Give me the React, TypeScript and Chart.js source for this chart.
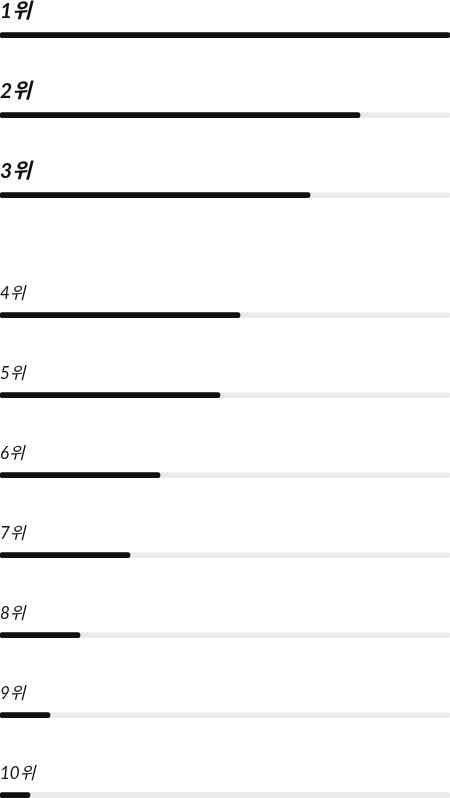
import React, { useEffect, useRef } from 'react';
import { Chart, registerables } from 'chart.js';

Chart.register(...registerables);

const ranks = ['1위', '2위', '3위', '4위', '5위', '6위', '7위', '8위', '9위', '10위'];
const scores = [45, 36, 31, 24, 22, 16, 13, 8, 5, 3];
const scoreMax = 45;
const topCount = 3;

export default function App() {
  const ref = useRef<HTMLCanvasElement>(null);

  useEffect(() => {
    if (!ref.current) return;
    const slot = (i: number) => i + (i >= topCount ? 0.5 : 0);

    const labelPlugin = {
      id: 'rankLabels',
      afterDatasetsDraw(chart: any) {
        const { ctx, chartArea } = chart;
        const meta = chart.getDatasetMeta(0);
        meta.data.forEach((bar: any, i: number) => {
          const top = i < topCount;
          ctx.save();
          ctx.font = top
            ? 'italic 700 21px Lato, "Noto Sans CJK KR", sans-serif'
            : 'italic 400 17px Lato, "Noto Sans CJK KR", sans-serif';
          ctx.fillStyle = '#111111';
          ctx.textAlign = 'left';
          ctx.textBaseline = 'alphabetic';
          ctx.fillText(ranks[i], chartArea.left, bar.y - (top ? 17 : 16));
          ctx.restore();
        });
      },
    };

    const chart = new Chart(ref.current, {
      type: 'bar',
      data: {
        datasets: [
          {
            data: scores.map((v, i) => ({ x: v, y: slot(i) })),
            backgroundColor: '#111111',
            borderRadius: 3,
            borderSkipped: false,
            barThickness: 5,
            grouped: false,
          } as any,
          {
            data: scores.map((_, i) => ({ x: scoreMax, y: slot(i) })),
            backgroundColor: '#ebebeb',
            borderRadius: 3,
            borderSkipped: false,
            barThickness: 5,
            grouped: false,
          } as any,
        ],
      },
      options: {
        indexAxis: 'y',
        animation: false,
        responsive: false,
        devicePixelRatio: 1,
        layout: { padding: 0 },
        plugins: { legend: { display: false }, tooltip: { enabled: false } },
        scales: {
          x: { type: 'linear', min: 0, max: scoreMax, display: false, offset: false },
          y: { type: 'linear', min: -0.44, max: 9.535, reverse: true, display: false, offset: false },
        },
      },
      plugins: [labelPlugin],
    });
    return () => chart.destroy();
  }, []);

  return (
    <div style={{ position: 'absolute', left: 0, top: 0, width: 450, height: 798, background: '#ffffff' }}>
      <canvas ref={ref} width={450} height={798} style={{ display: 'block', width: 450, height: 798 }} />
    </div>
  );
}
